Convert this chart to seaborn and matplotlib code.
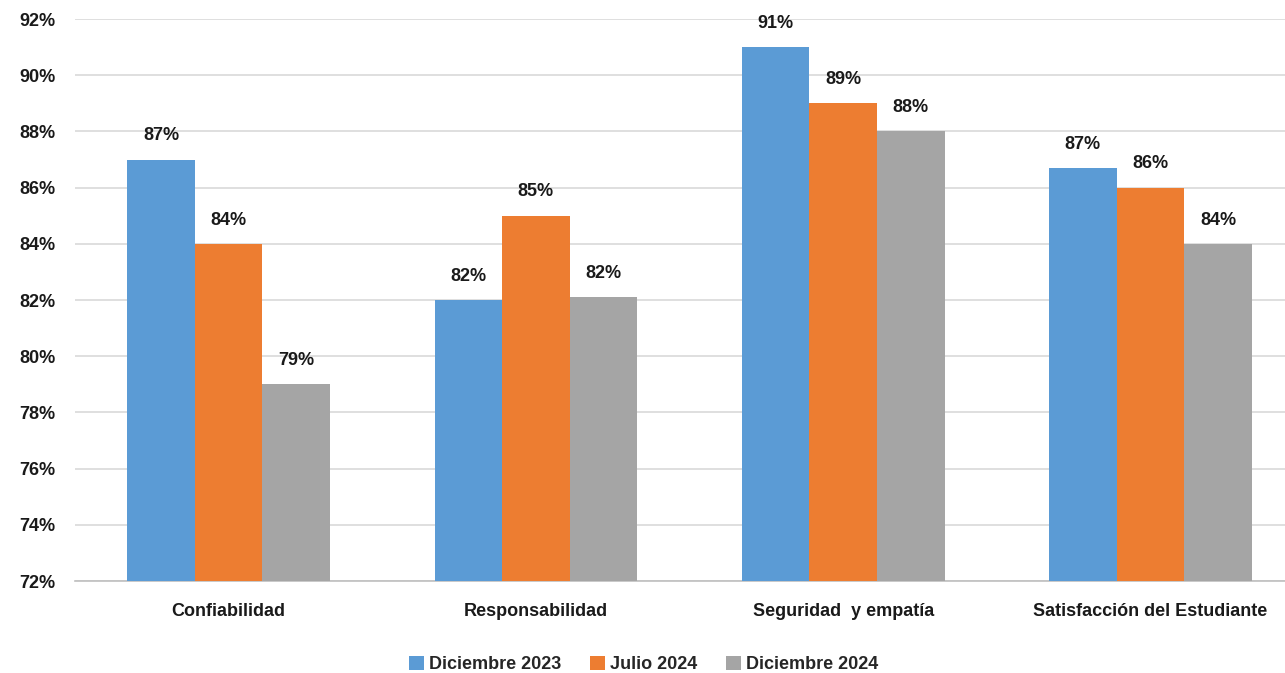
import pandas as pd
import seaborn as sns
import matplotlib.pyplot as plt
from matplotlib.ticker import FuncFormatter

# Data
categories = ['Confiabilidad', 'Responsabilidad', 'Seguridad  y empatía', 'Satisfacción del Estudiante']
series = ['Diciembre 2023', 'Julio 2024', 'Diciembre 2024']
dic_2023 = [87.0, 82.0, 91.0, 86.7]
jul_2024 = [84.0, 85.0, 89.0, 86.0]
dic_2024 = [79.0, 82.1, 88.0, 84.0]
colors = ['#5B9BD5', '#ED7D31', '#A5A5A5']

rows = []
for name, vals in zip(series, [dic_2023, jul_2024, dic_2024]):
    for cat, v in zip(categories, vals):
        rows.append({'Categoria': cat, 'Periodo': name, 'Valor': v})
data = pd.DataFrame(rows)

sns.set_style('white')
plt.rcParams['font.family'] = ['Liberation Sans', 'DejaVu Sans']

fig = plt.figure(figsize=(12.85, 6.73), dpi=100)
ax = fig.add_axes([0.0584, 0.1367, 0.9416, 0.835])

sns.barplot(data=data, x='Categoria', y='Valor', hue='Periodo', order=categories,
            hue_order=series, palette=colors, width=0.66, saturation=1,
            linewidth=0, ax=ax, zorder=3)

for cont in ax.containers:
    ax.bar_label(cont, labels=[f'{v:.0f}%' for v in cont.datavalues],
                 padding=11, fontsize=13, fontweight='bold', color='#1a1a1a')

ax.set_ylim(72, 92)
ax.set_yticks(range(72, 93, 2))
ax.yaxis.set_major_formatter(FuncFormatter(lambda v, p: f'{v:.0f}%'))
ax.set_xlim(-0.5, 3.438)
ax.grid(axis='y', color='#D9D9D9', linewidth=1.2, zorder=0)
ax.set_axisbelow(True)
for s in ['top', 'right', 'left']:
    ax.spines[s].set_visible(False)
ax.spines['bottom'].set_color('#BFBFBF')
ax.spines['bottom'].set_linewidth(1.2)
ax.tick_params(axis='both', length=0, labelsize=13)
ax.tick_params(axis='x', pad=16)
ax.tick_params(axis='y', pad=14)
for lab in ax.get_xticklabels() + ax.get_yticklabels():
    lab.set_fontweight('bold')
    lab.set_color('#1a1a1a')
ax.set_xlabel('')
ax.set_ylabel('')

ax.legend(loc='upper center', bbox_to_anchor=(0.47, -0.105), ncol=3, frameon=False,
          prop={'size': 13, 'weight': 'bold'}, handlelength=0.8, handleheight=0.8,
          handletextpad=0.3, columnspacing=1.6)

plt.savefig('out.png', dpi=100)
plt.close()
